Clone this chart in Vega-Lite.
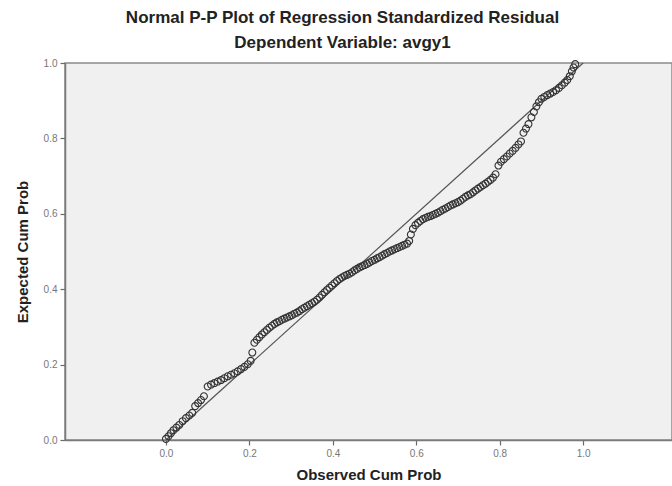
{
  "$schema": "https://vega.github.io/schema/vega-lite/v6.json",
  "width": 607,
  "height": 377,
  "autosize": {"type": "none"},
  "padding": {"left": 65, "top": 63, "right": 0, "bottom": 46},
  "background": "white",
  "title": {
    "text": "Normal P-P Plot of Regression Standardized Residual",
    "subtitle": "Dependent Variable: avgy1",
    "anchor": "middle",
    "dx": -26,
    "offset": 6,
    "font": "Liberation Sans",
    "fontSize": 17,
    "fontWeight": "bold",
    "color": "#222",
    "subtitleFont": "Liberation Sans",
    "subtitleFontSize": 17,
    "subtitleFontWeight": "bold",
    "subtitleColor": "#222",
    "subtitlePadding": 8
  },
  "config": {
    "view": {"fill": "#f0f0f0", "stroke": "#8a8a8a", "strokeWidth": 1.5},
    "axis": {
      "grid": false,
      "domainColor": "#7a7a7a",
      "domainWidth": 1.5,
      "tickColor": "#6a6a6a",
      "tickSize": 5,
      "tickWidth": 1.2,
      "labelFont": "Liberation Sans",
      "labelFontSize": 10,
      "labelColor": "#777",
      "titleFont": "Liberation Sans",
      "titleFontSize": 15,
      "titleFontWeight": "bold",
      "titleColor": "#222"
    }
  },
  "layer": [
    {
      "data": {"values": [{"obs": 0, "exp": 0}, {"obs": 1, "exp": 1}]},
      "mark": {"type": "line", "color": "#555", "strokeWidth": 1.2},
      "encoding": {
        "x": {"field": "obs", "type": "quantitative"},
        "y": {"field": "exp", "type": "quantitative"}
      }
    },
    {
      "data": {"values": [
        {"obs": 0.000, "exp": 0.003}, {"obs": 0.006, "exp": 0.010}, {"obs": 0.012, "exp": 0.018},
        {"obs": 0.018, "exp": 0.026}, {"obs": 0.025, "exp": 0.033}, {"obs": 0.032, "exp": 0.040},
        {"obs": 0.040, "exp": 0.050}, {"obs": 0.048, "exp": 0.058}, {"obs": 0.056, "exp": 0.065},
        {"obs": 0.063, "exp": 0.072}, {"obs": 0.070, "exp": 0.090}, {"obs": 0.077, "exp": 0.098},
        {"obs": 0.084, "exp": 0.106}, {"obs": 0.091, "exp": 0.116}, {"obs": 0.100, "exp": 0.142},
        {"obs": 0.108, "exp": 0.147}, {"obs": 0.116, "exp": 0.151}, {"obs": 0.124, "exp": 0.155},
        {"obs": 0.132, "exp": 0.159}, {"obs": 0.140, "exp": 0.164}, {"obs": 0.148, "exp": 0.169},
        {"obs": 0.156, "exp": 0.173}, {"obs": 0.164, "exp": 0.177}, {"obs": 0.172, "exp": 0.182},
        {"obs": 0.180, "exp": 0.188}, {"obs": 0.188, "exp": 0.194}, {"obs": 0.196, "exp": 0.201},
        {"obs": 0.203, "exp": 0.210}, {"obs": 0.207, "exp": 0.232}, {"obs": 0.212, "exp": 0.258},
        {"obs": 0.218, "exp": 0.266}, {"obs": 0.224, "exp": 0.273}, {"obs": 0.230, "exp": 0.280},
        {"obs": 0.236, "exp": 0.286}, {"obs": 0.242, "exp": 0.292}, {"obs": 0.248, "exp": 0.298},
        {"obs": 0.254, "exp": 0.303}, {"obs": 0.260, "exp": 0.308}, {"obs": 0.266, "exp": 0.312},
        {"obs": 0.272, "exp": 0.315}, {"obs": 0.278, "exp": 0.319}, {"obs": 0.284, "exp": 0.322},
        {"obs": 0.290, "exp": 0.325}, {"obs": 0.296, "exp": 0.328}, {"obs": 0.302, "exp": 0.331},
        {"obs": 0.308, "exp": 0.335}, {"obs": 0.314, "exp": 0.338}, {"obs": 0.320, "exp": 0.342},
        {"obs": 0.326, "exp": 0.347}, {"obs": 0.332, "exp": 0.351}, {"obs": 0.338, "exp": 0.355},
        {"obs": 0.344, "exp": 0.359}, {"obs": 0.350, "exp": 0.363}, {"obs": 0.356, "exp": 0.367},
        {"obs": 0.362, "exp": 0.372}, {"obs": 0.368, "exp": 0.378}, {"obs": 0.374, "exp": 0.385},
        {"obs": 0.380, "exp": 0.392}, {"obs": 0.386, "exp": 0.398}, {"obs": 0.392, "exp": 0.404},
        {"obs": 0.398, "exp": 0.410}, {"obs": 0.404, "exp": 0.416}, {"obs": 0.410, "exp": 0.422},
        {"obs": 0.416, "exp": 0.427}, {"obs": 0.422, "exp": 0.431}, {"obs": 0.428, "exp": 0.435},
        {"obs": 0.434, "exp": 0.438}, {"obs": 0.440, "exp": 0.441}, {"obs": 0.446, "exp": 0.445},
        {"obs": 0.452, "exp": 0.450}, {"obs": 0.458, "exp": 0.454}, {"obs": 0.464, "exp": 0.458},
        {"obs": 0.470, "exp": 0.461}, {"obs": 0.476, "exp": 0.464}, {"obs": 0.482, "exp": 0.467},
        {"obs": 0.488, "exp": 0.471}, {"obs": 0.494, "exp": 0.475}, {"obs": 0.500, "exp": 0.478},
        {"obs": 0.506, "exp": 0.482}, {"obs": 0.512, "exp": 0.485}, {"obs": 0.518, "exp": 0.489},
        {"obs": 0.524, "exp": 0.493}, {"obs": 0.530, "exp": 0.496}, {"obs": 0.536, "exp": 0.500},
        {"obs": 0.542, "exp": 0.503}, {"obs": 0.548, "exp": 0.506}, {"obs": 0.554, "exp": 0.509},
        {"obs": 0.560, "exp": 0.512}, {"obs": 0.566, "exp": 0.515}, {"obs": 0.572, "exp": 0.518},
        {"obs": 0.578, "exp": 0.521}, {"obs": 0.583, "exp": 0.528}, {"obs": 0.587, "exp": 0.545},
        {"obs": 0.592, "exp": 0.560}, {"obs": 0.598, "exp": 0.570}, {"obs": 0.604, "exp": 0.576},
        {"obs": 0.610, "exp": 0.581}, {"obs": 0.616, "exp": 0.586}, {"obs": 0.622, "exp": 0.589},
        {"obs": 0.628, "exp": 0.592}, {"obs": 0.634, "exp": 0.594}, {"obs": 0.640, "exp": 0.597},
        {"obs": 0.646, "exp": 0.600}, {"obs": 0.652, "exp": 0.603}, {"obs": 0.658, "exp": 0.607},
        {"obs": 0.664, "exp": 0.611}, {"obs": 0.670, "exp": 0.614}, {"obs": 0.676, "exp": 0.618},
        {"obs": 0.682, "exp": 0.622}, {"obs": 0.688, "exp": 0.625}, {"obs": 0.694, "exp": 0.628},
        {"obs": 0.700, "exp": 0.631}, {"obs": 0.706, "exp": 0.635}, {"obs": 0.712, "exp": 0.640},
        {"obs": 0.718, "exp": 0.645}, {"obs": 0.724, "exp": 0.649}, {"obs": 0.730, "exp": 0.652},
        {"obs": 0.736, "exp": 0.657}, {"obs": 0.742, "exp": 0.662}, {"obs": 0.748, "exp": 0.667},
        {"obs": 0.754, "exp": 0.671}, {"obs": 0.760, "exp": 0.676}, {"obs": 0.766, "exp": 0.680},
        {"obs": 0.772, "exp": 0.685}, {"obs": 0.778, "exp": 0.690}, {"obs": 0.784, "exp": 0.696},
        {"obs": 0.790, "exp": 0.705}, {"obs": 0.797, "exp": 0.728}, {"obs": 0.803, "exp": 0.738},
        {"obs": 0.810, "exp": 0.745}, {"obs": 0.817, "exp": 0.752}, {"obs": 0.824, "exp": 0.760},
        {"obs": 0.831, "exp": 0.767}, {"obs": 0.838, "exp": 0.775}, {"obs": 0.845, "exp": 0.784},
        {"obs": 0.851, "exp": 0.792}, {"obs": 0.857, "exp": 0.815}, {"obs": 0.863, "exp": 0.826},
        {"obs": 0.869, "exp": 0.838}, {"obs": 0.876, "exp": 0.856}, {"obs": 0.882, "exp": 0.870},
        {"obs": 0.888, "exp": 0.885}, {"obs": 0.894, "exp": 0.896}, {"obs": 0.900, "exp": 0.905},
        {"obs": 0.907, "exp": 0.910}, {"obs": 0.914, "exp": 0.915}, {"obs": 0.921, "exp": 0.919},
        {"obs": 0.928, "exp": 0.923}, {"obs": 0.935, "exp": 0.928}, {"obs": 0.942, "exp": 0.934},
        {"obs": 0.949, "exp": 0.941}, {"obs": 0.956, "exp": 0.948}, {"obs": 0.962, "exp": 0.955},
        {"obs": 0.968, "exp": 0.965}, {"obs": 0.973, "exp": 0.978}, {"obs": 0.977, "exp": 0.988},
        {"obs": 0.981, "exp": 0.997}
      ]},
      "mark": {"type": "point", "shape": "circle", "filled": false, "stroke": "#333", "strokeWidth": 1.1, "size": 48, "opacity": 1},
      "encoding": {
        "x": {
          "field": "obs", "type": "quantitative",
          "scale": {"domain": [-0.242, 1.213], "nice": false, "zero": false},
          "axis": {"values": [0, 0.2, 0.4, 0.6, 0.8, 1.0], "format": ".1f", "title": "Observed Cum Prob", "titlePadding": 9, "labelPadding": 3}
        },
        "y": {
          "field": "exp", "type": "quantitative",
          "scale": {"domain": [0, 1], "nice": false},
          "axis": {"values": [0, 0.2, 0.4, 0.6, 0.8, 1.0], "format": ".1f", "title": "Expected Cum Prob", "titlePadding": 13, "labelPadding": 3}
        }
      }
    }
  ]
}
